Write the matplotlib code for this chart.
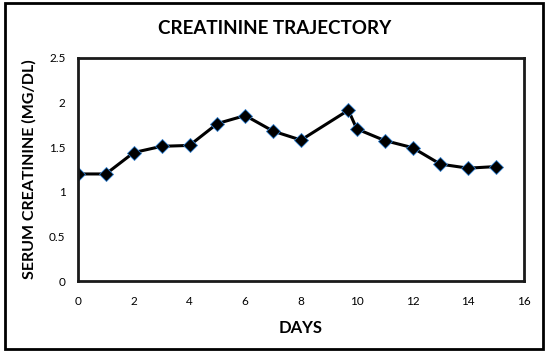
import matplotlib
matplotlib.use("Agg")
import matplotlib.pyplot as plt
from matplotlib.patches import Rectangle

days = [0, 1, 2, 3, 4, 5, 6, 7, 8, 9.7, 10, 11, 12, 13, 14, 15]
creatinine = [1.20, 1.20, 1.44, 1.51, 1.52, 1.765, 1.855, 1.68, 1.58, 1.915, 1.705, 1.575, 1.495, 1.31, 1.265, 1.283]
x_ticks = [0, 2, 4, 6, 8, 10, 12, 14, 16]
y_ticks = [0, 0.5, 1, 1.5, 2, 2.5]
y_tick_labels = ["0", "0.5", "1", "1.5", "2", "2.5"]

plt.rcParams['font.family'] = ['Lato', 'DejaVu Sans']

fig = plt.figure(figsize=(5.5, 3.54), dpi=100)
fig.patch.set_facecolor("white")
fig.add_artist(Rectangle((5/550, 1 - 349/354), 538/550, 346/354, transform=fig.transFigure,
                         fill=False, edgecolor="black", linewidth=2))

ax = fig.add_axes([78/550, 1 - 281/354, (524-78)/550, (281-58)/354])
ax.plot(days, creatinine, color="black", linewidth=2.2, marker="D", markersize=7,
        markerfacecolor="black", markeredgecolor="#2f7fd0", markeredgewidth=0.6)
ax.set_xlim(0, 16)
ax.set_ylim(0, 2.5)
ax.set_xticks(x_ticks)
ax.set_yticks(y_ticks)
ax.set_yticklabels(y_tick_labels)
ax.tick_params(axis="x", length=0, labelsize=8.5, pad=11)
ax.tick_params(axis="y", length=0, labelsize=8.5, pad=9)
for s in ax.spines.values():
    s.set_linewidth(2)
    s.set_color("#1a1a1a")

ax.set_xlabel("DAYS", fontsize=12, fontweight="bold", labelpad=9)
ax.set_ylabel("SERUM CREATININE (MG/DL)", fontsize=11.5, fontweight="bold", labelpad=9)
fig.text(0.5, 1 - 29/354, "CREATININE TRAJECTORY", ha="center", va="center",
         fontsize=13.5, fontweight="bold")

fig.savefig("out.png", dpi=100)
